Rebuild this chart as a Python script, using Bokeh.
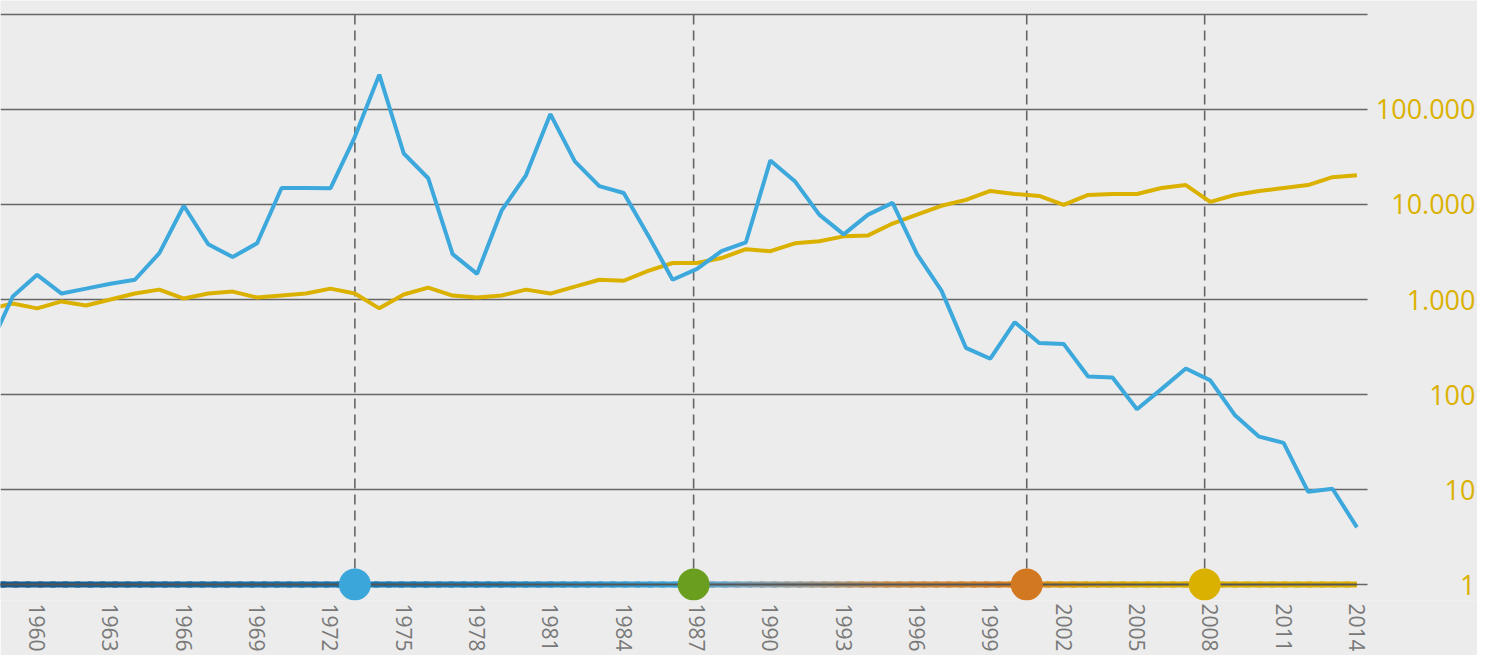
import numpy as np
from bokeh.plotting import figure
from bokeh.models import FixedTicker
from bokeh.core.properties import value
from bokeh.embed import file_html
from bokeh.resources import INLINE

# ---------------- data ----------------
years = list(range(1958, 2015))
blue_values = [296, 1075, 1820, 1155, 1301, 1467, 1614, 3077, 9690, 3815,
               2797, 3906, 14900, 14900, 14800, 51600, 232800, 34400, 18900, 3005,
               1862, 8600, 20300, 89500, 28400, 15600, 13200, 4730, 1614, 2099,
               3226, 4000, 29100, 17600, 7815, 4845, 7815, 10400, 3005, 1241,
               310, 238, 577, 349, 341, 155, 151, 70, 114, 188,
               141, 61, 36, 31, 9.5, 10.2, 4.0]
yellow_values = [788, 909, 807, 954, 866, 1000, 1155, 1270, 1024, 1155,
                 1211, 1050, 1101, 1155, 1301, 1155, 807, 1128, 1333, 1101,
                 1050, 1101, 1270, 1155, 1364, 1614, 1575, 2000, 2421, 2421,
                 2729, 3386, 3226, 3906, 4100, 4620, 4730, 6300, 7815, 9690,
                 11190, 13870, 12900, 12300, 9930, 12600, 12900, 12900, 14900, 16000,
                 10660, 12600, 13870, 14900, 16000, 19370, 20300]
event_years = [1973.0, 1986.86, 2000.49, 2007.77]
event_colors = ["#3aa6da", "#6a9e1f", "#d27820", "#dbb100"]
x_tick_years = list(range(1960, 2015, 3))
y_ticks = [1, 10, 100, 1000, 10000, 100000, 1000000]
y_tick_labels = ["1", "10", "100", "1.000", "10.000", "100.000", ""]

# timeline gradient stops (style)
stop_years = [1958.5, 1979, 1986, 1989, 1992, 1995, 1999.5, 2002, 2005, 2014]
stop_colors = ["#155a8f", "#1b82bd", "#3aa6da", "#7fa3b8", "#a39a8a", "#c68a45",
               "#d97e1e", "#dc9a0c", "#dbae00", "#dbb100"]

BG = "#ececec"
BLUE = "#3ca8dc"
GOLD = "#dbb100"
GRID = "#666666"

PX_PER_YEAR = 24.44
FRAME_W, FRAME_H = 1477, 600
x_start = 1958.5
grid_end = x_start + 1367 / PX_PER_YEAR        # where the grid lines stop
x_end = x_start + FRAME_W / PX_PER_YEAR        # frame extends under the value labels
label_x = x_start + 1475 / PX_PER_YEAR         # right edge of the value labels
y_start, y_end = 10 ** -0.168, 10 ** 6.147

p = figure(frame_width=FRAME_W, frame_height=FRAME_H,
           x_range=(x_start, x_end), y_range=(y_start, y_end),
           y_axis_type="log",
           output_backend="svg", toolbar_location=None,
           background_fill_color=BG, border_fill_color=BG,
           min_border_left=0, min_border_top=0, min_border_right=0, min_border_bottom=55)
p.outline_line_color = None
p.yaxis.visible = False
p.xgrid.visible = False
p.ygrid.visible = False

# x axis
p.xaxis.ticker = FixedTicker(ticks=x_tick_years, minor_ticks=[])
p.xaxis.major_label_orientation = "vertical"
p.xaxis.axis_line_color = None
p.xaxis.major_tick_line_color = None
p.xaxis.minor_tick_line_color = None
p.xaxis.major_tick_out = 0
p.xaxis.major_tick_in = 0
p.xaxis.major_label_text_color = "#787878"
p.xaxis.major_label_text_font = "Open Sans"
p.xaxis.major_label_text_font_size = "21px"
p.xaxis.major_label_standoff = 3

# horizontal grid lines at the y ticks (stop before the label column)
p.segment(x0=[x_start] * len(y_ticks), y0=y_ticks,
          x1=[grid_end] * len(y_ticks), y1=y_ticks,
          line_color=GRID, line_width=1.6)

# right-aligned value labels
p.text(x=[label_x] * (len(y_ticks) - 1), y=y_ticks[:-1], text=y_tick_labels[:-1],
       text_align="right", text_baseline="middle", text_color=GOLD,
       text_font=value("Open Sans"), text_font_size="27px")

# event dashed lines
p.segment(x0=event_years, y0=[y_ticks[0]] * len(event_years),
          x1=event_years, y1=[y_ticks[-1]] * len(event_years),
          line_color=GRID, line_width=1.6, line_dash="10 6")

# timeline (gradient) along value 1
n = 110
xs = np.linspace(x_start - 0.5, years[-1], n + 1)
def hex2rgb(h):
    return np.array([int(h[i:i + 2], 16) for i in (1, 3, 5)], dtype=float)
stop_rgb = np.array([hex2rgb(c) for c in stop_colors])
mids = (xs[:-1] + xs[1:]) / 2
cols = []
for m in mids:
    r = np.interp(m, stop_years, stop_rgb[:, 0])
    g = np.interp(m, stop_years, stop_rgb[:, 1])
    b = np.interp(m, stop_years, stop_rgb[:, 2])
    cols.append("#%02x%02x%02x" % (int(r), int(g), int(b)))
base = y_ticks[0]
step = xs[1] - xs[0]
x1s = np.minimum(xs[1:] + 0.4 * step, years[-1])
p.segment(x0=xs[:-1], y0=[base] * n, x1=x1s, y1=[base] * n,
          line_color=cols, line_width=6)
p.line([xs[0], years[-1]], [base, base], line_color="#555555", line_width=2)

# series
p.line(years, yellow_values, line_color=GOLD, line_width=4)
p.line(years, blue_values, line_color=BLUE, line_width=4)

# event dots
p.scatter(x=event_years, y=[base] * len(event_years), size=32,
          fill_color=event_colors, line_color=None)

open("out.html", "w").write(file_html(p, INLINE))
